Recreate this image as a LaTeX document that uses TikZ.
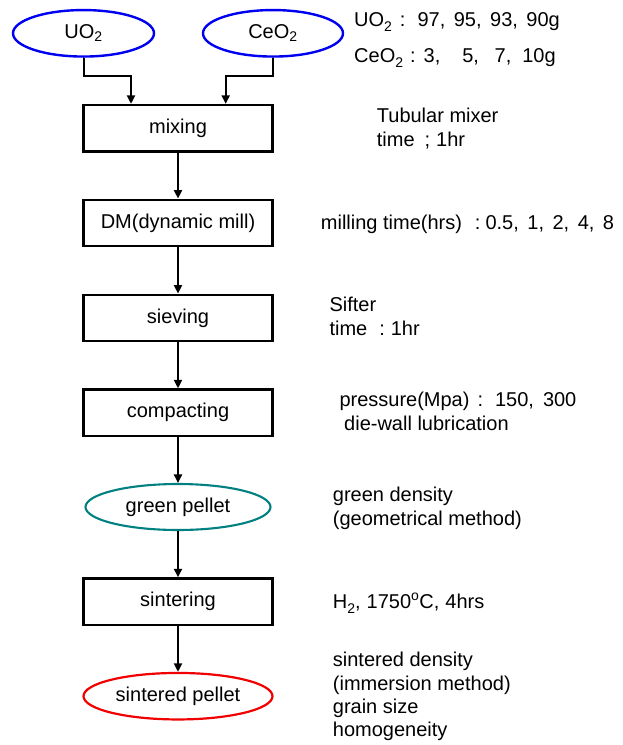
\documentclass[tikz,border=0pt]{standalone}
\usepackage{fontspec}
\setmainfont{Liberation Sans}
\usetikzlibrary{shapes.geometric,arrows.meta}
\newcommand\hs[1]{\hspace{#1pt}}
\newcommand\sdn[1]{\raisebox{-5pt}{\fontsize{14}{14}\selectfont #1}}
\begin{document}
\begin{tikzpicture}[x=1pt,y=-1pt,
  every node/.style={font=\fontsize{20}{24}\selectfont, inner sep=0pt},
  stepbox/.style={draw=black, line width=2.4pt, minimum width=189pt, minimum height=46.5pt},
  oval/.style={draw, ellipse, line width=2.4pt},
  side/.style={anchor=base west},
  arr/.style={line width=2pt, -{Triangle[length=8.5pt,width=8pt]}}
]
\useasboundingbox (0,0) rectangle (622,745);
% main column
\node[oval, draw={rgb,255:red,0;green,0;blue,240}, minimum width=141pt, minimum height=46.5pt] (uo2) at (83.5,33.3) {UO\textsubscript{2}};
\node[oval, draw={rgb,255:red,0;green,0;blue,240}, minimum width=140pt, minimum height=46.5pt] (ceo2) at (273,33.3) {CeO\textsubscript{2}};
\node[stepbox] (mix) at (178,128.3) {mixing};
\node[stepbox] (dm) at (178,223) {DM(dynamic mill)};
\node[stepbox] (siev) at (178,318) {sieving};
\node[stepbox] (comp) at (178,412.8) {compacting};
\node[oval, line width=2.1pt, draw={rgb,255:red,0;green,128;blue,128}, minimum width=185pt, minimum height=46pt] (green) at (178,507) {green pellet};
\node[stepbox] (sint) at (178,601.7) {sintering};
\node[oval, line width=2.2pt, draw={rgb,255:red,240;green,0;blue,0}, minimum width=189pt, minimum height=46.5pt] (sinted) at (178,696.2) {sintered pellet};
% connectors
\coordinate (m1) at ([xshift=-47pt]mix.north);
\coordinate (m2) at ([xshift=47.7pt]mix.north);
\draw[arr] (uo2.south) -- ++(0,18) -| (m1);
\draw[arr] (ceo2.south) -- ++(0,18) -| (m2);
\draw[arr] (mix.south) -- (dm.north);
\draw[arr] (dm.south) -- (siev.north);
\draw[arr] (siev.south) -- (comp.north);
\draw[arr] (comp.south) -- (green.north);
\draw[arr] (green.south) -- (sint.north);
\draw[arr] (sint.south) -- (sinted.north);
% side notes
\node[side] (n1) at (354,26) {UO\sdn{2}\hs{8}:\hs{12}97,\hs{8.5}95,\hs{8.5}93,\hs{8.5}90g};
\node[side] (n2) at (354,62.7) {CeO\sdn{2}\hs{7}:\hs{8}3,\hs{22}5,\hs{15.6}7,\hs{11}10g};
\node[side] (n3) at (376.7,122.7) {Tubular mixer};
\node[side] (n4) at (376.7,146.7) {time\hs{10};\hs{6}1hr};
\node[side] (n5) at (320.7,229.3) {milling time(hrs)\hs{13}:\hs{5}0.5,\hs{8.5}1,\hs{8.5}2,\hs{8.5}4,\hs{8.5}8};
\node[side] (n6) at (329.3,311.7) {Sifter};
\node[side] (n7) at (329.3,335.7) {time\hs{12}:\hs{6}1hr};
\node[side] (n8) at (339.3,406.7) {pressure(Mpa)\hs{8}:\hs{12}150,\hs{9}300};
\node[side] (n9) at (344,430) {die-wall lubrication};
\node[side] (n10) at (332.7,501.7) {green density};
\node[side] (n11) at (332.7,525) {(geometrical method)};
\node[side] (n12) at (332.7,608) {H\sdn{2},\hs{6}1750\textsuperscript{o}C,\hs{6}4hrs};
\node[side] (n13) at (332.7,666.7) {sintered density};
\node[side] (n14) at (332.7,690) {(immersion method)};
\node[side] (n15) at (332.7,713.3) {grain size};
\node[side] (n16) at (332.7,736) {homogeneity};
\end{tikzpicture}
\end{document}
